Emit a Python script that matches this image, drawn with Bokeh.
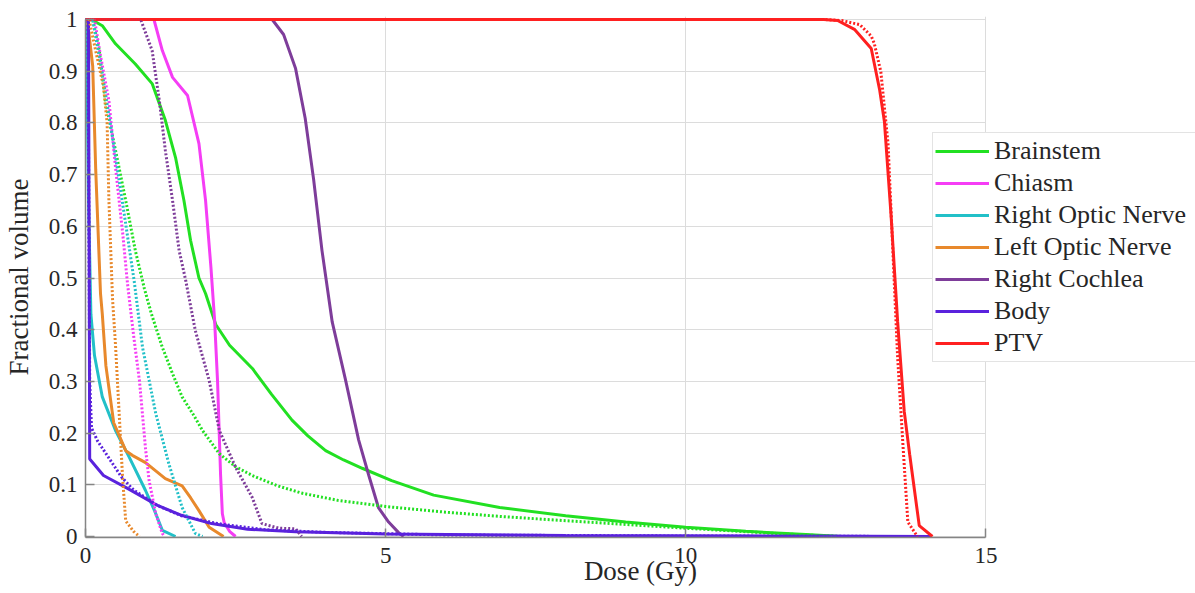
from bokeh.plotting import figure
from bokeh.models import Range1d, FixedTicker, Legend, LegendItem
from bokeh.embed import file_html
from bokeh.resources import INLINE

# ---------------- data ----------------
structures = ["Brainstem", "Chiasm", "Right Optic Nerve", "Left Optic Nerve",
              "Right Cochlea", "Body", "PTV"]

brainstem_dose = [0, 0.1, 0.28, 0.5, 0.83, 1.11, 1.33, 1.5, 1.64, 1.75, 1.89, 2.0, 2.17, 2.4,
                  2.78, 3.1, 3.44, 3.7, 4.0, 4.3, 4.61, 5.1, 5.8, 6.9, 8.0, 9.0, 10.0, 11.0, 12.0, 12.6]
brainstem_vol = [1, 1, 0.988, 0.953, 0.914, 0.876, 0.805, 0.733, 0.65, 0.573, 0.50, 0.47, 0.41, 0.37,
                 0.325, 0.275, 0.225, 0.195, 0.166, 0.148, 0.132, 0.108, 0.08, 0.056, 0.04, 0.028,
                 0.018, 0.01, 0.004, 0]
brainstem2_dose = [0, 0.12, 0.23, 0.33, 0.5, 0.67, 0.83, 0.98, 1.1, 1.28, 1.45, 1.61, 1.8, 1.95,
                   2.23, 2.5, 2.78, 3.2, 3.6, 4.2, 5.0, 6.0, 7.0, 8.5, 10.0, 11.5, 12.5]
brainstem2_vol = [1, 1, 0.94, 0.843, 0.747, 0.65, 0.553, 0.48, 0.43, 0.366, 0.315, 0.27, 0.235, 0.205,
                  0.16, 0.135, 0.118, 0.098, 0.084, 0.07, 0.058, 0.047, 0.038, 0.027, 0.016, 0.006, 0]

chiasm_dose = [0, 1.14, 1.28, 1.45, 1.70, 1.89, 2.0, 2.09, 2.15, 2.2, 2.25, 2.28, 2.31, 2.4, 2.5]
chiasm_vol = [1, 1, 0.94, 0.888, 0.853, 0.76, 0.65, 0.52, 0.42, 0.30, 0.12, 0.044, 0.027, 0.01, 0]
chiasm2_dose = [0, 0.15, 0.25, 0.39, 0.5, 0.62, 0.70, 0.8, 0.9, 1.0, 1.06, 1.17, 1.28, 1.32]
chiasm2_vol = [1, 1, 0.93, 0.843, 0.714, 0.586, 0.489, 0.39, 0.30, 0.17, 0.108, 0.044, 0.006, 0]

ron_dose = [0, 0.02, 0.05, 0.09, 0.15, 0.28, 0.5, 0.73, 1.0, 1.15, 1.28, 1.5]
ron_vol = [1, 0.95, 0.65, 0.43, 0.35, 0.27, 0.205, 0.153, 0.089, 0.05, 0.012, 0]
ron2_dose = [0, 0.12, 0.3, 0.48, 0.65, 0.81, 0.95, 1.17, 1.39, 1.61, 1.83, 1.95]
ron2_vol = [1, 1, 0.88, 0.75, 0.62, 0.495, 0.366, 0.238, 0.14, 0.056, 0.006, 0]

lon_dose = [0, 0.03, 0.12, 0.17, 0.25, 0.28, 0.34, 0.47, 0.67, 0.78, 1.0, 1.33, 1.61, 1.75,
            1.89, 2.06, 2.3]
lon_vol = [1, 1, 0.91, 0.71, 0.47, 0.43, 0.33, 0.22, 0.166, 0.157, 0.143, 0.112, 0.098, 0.075,
           0.05, 0.018, 0]
lon2_dose = [0, 0.06, 0.15, 0.3, 0.36, 0.39, 0.45, 0.5, 0.56, 0.62, 0.67, 0.8, 0.9]
lon2_vol = [1, 1, 0.95, 0.87, 0.8, 0.65, 0.46, 0.37, 0.24, 0.11, 0.03, 0.01, 0]

rc_dose = [0, 3.11, 3.30, 3.50, 3.66, 3.80, 3.94, 4.11, 4.33, 4.55, 4.72, 4.88, 5.05, 5.22, 5.3]
rc_vol = [1, 1, 0.971, 0.905, 0.809, 0.691, 0.553, 0.415, 0.304, 0.187, 0.118, 0.056, 0.028,
          0.007, 0]
rc2_dose = [0, 0.92, 1.11, 1.23, 1.33, 1.45, 1.56, 1.67, 1.83, 2.06, 2.23, 2.5, 2.78, 2.94,
            3.22, 3.5, 3.6]
rc2_vol = [1, 1, 0.94, 0.843, 0.747, 0.65, 0.553, 0.495, 0.398, 0.302, 0.205, 0.134, 0.075,
           0.025, 0.016, 0.015, 0]

body_dose = [0, 0.05, 0.07, 0.3, 0.7, 1.2, 1.6, 2.1, 2.7, 3.5, 5.0, 8.0, 12.0, 14.1]
body_vol = [1, 1, 0.15, 0.118, 0.093, 0.06, 0.041, 0.025, 0.014, 0.009, 0.005, 0.002, 0.001, 0]
body2_dose = [0, 0.04, 0.07, 0.1, 0.2, 0.4, 0.6, 0.8, 1.2, 1.6, 2.2, 3.0, 4.0, 6.0, 10.0, 14.0]
body2_vol = [1, 1, 0.3, 0.21, 0.185, 0.15, 0.115, 0.09, 0.06, 0.04, 0.025, 0.013, 0.008, 0.003,
             0.001, 0]

ptv_dose = [0, 12.3, 12.53, 12.81, 13.09, 13.23, 13.31, 13.42, 13.53, 13.64, 13.73, 13.89, 14.11]
ptv_vol = [1, 1, 0.998, 0.981, 0.944, 0.864, 0.802, 0.622, 0.415, 0.242, 0.159, 0.021, 0]
ptv2_dose = [0, 12.3, 12.6, 12.9, 13.09, 13.14, 13.25, 13.37, 13.45, 13.53, 13.62, 13.70, 13.86]
ptv2_vol = [1, 1, 0.998, 0.99, 0.968, 0.954, 0.899, 0.76, 0.553, 0.346, 0.174, 0.028, 0]

colors = ["#22e022", "#f53df5", "#22c0c8", "#e8892c", "#7e3d9a", "#5a22dd", "#ff2020"]

solid_series = [(brainstem_dose, brainstem_vol), (chiasm_dose, chiasm_vol), (ron_dose, ron_vol),
                (lon_dose, lon_vol), (rc_dose, rc_vol), (body_dose, body_vol), (ptv_dose, ptv_vol)]
dotted_series = [(brainstem2_dose, brainstem2_vol), (chiasm2_dose, chiasm2_vol),
                 (ron2_dose, ron2_vol), (lon2_dose, lon2_vol), (rc2_dose, rc2_vol),
                 (body2_dose, body2_vol), (ptv2_dose, ptv2_vol)]

x_min, x_max = 0, 15
y_min, y_max = 0, 1
x_ticks = [0, 5, 10, 15]
x_tick_labels = ["0", "5", "10", "15"]
x_grid_ticks = [5, 10, 15]
y_ticks = [0, 0.1, 0.2, 0.3, 0.4, 0.5, 0.6, 0.7, 0.8, 0.9, 1.0]
y_tick_labels = ["0", "0.1", "0.2", "0.3", "0.4", "0.5", "0.6", "0.7", "0.8", "0.9", "1"]

x_title = "Dose (Gy)"
y_title = "Fractional volume"

# ---------------- figure ----------------
FONT = "Liberation Serif, Times New Roman, serif"
TXT = "#262626"
GRID = "#dcdcdc"

# frame: x 83..1195 px (15 Gy = 902 px), y 16..537 px (1.0 = 517 px)
px_per_gy = 902 / 15
px_per_unit = 517
frame_w = 1195 - 83

p = figure(width=1195, height=593, output_backend="svg", toolbar_location=None,
           x_range=Range1d(0, frame_w / px_per_gy),
           y_range=Range1d(-1 / px_per_unit, 1 + 3 / px_per_unit),
           min_border_left=83, min_border_right=0, min_border_top=16, min_border_bottom=56)
p.background_fill_color = "white"
p.border_fill_color = "white"
p.outline_line_color = None

for ax, ticks, labels in ((p.xaxis, x_ticks, x_tick_labels), (p.yaxis, y_ticks, y_tick_labels)):
    ax.ticker = FixedTicker(ticks=ticks)
    ax.major_label_overrides = {t: l for t, l in zip(ticks, labels)}
    ax.major_label_text_font = FONT
    ax.major_label_text_font_size = "23px"
    ax.major_label_text_color = TXT
    ax.major_label_standoff = 8
    ax.axis_line_color = "#858585"
    ax.axis_line_width = 1.5
    ax.major_tick_line_color = "#858585"
    ax.major_tick_line_width = 1.5
    ax.major_tick_in = 9
    ax.major_tick_out = 0
    ax.minor_tick_line_color = None
    ax.axis_label_text_font = FONT
    ax.axis_label_text_font_size = "27px"
    ax.axis_label_text_font_style = "normal"
    ax.axis_label_text_color = TXT

p.xaxis.bounds = (x_min, x_max)
p.yaxis.bounds = (y_min, y_max)
p.xaxis.axis_label = x_title
p.yaxis.axis_label = y_title
p.xaxis.major_label_standoff = 10
p.xaxis.axis_label_standoff = -10
p.yaxis.axis_label_standoff = 12

p.xgrid.ticker = FixedTicker(ticks=x_grid_ticks)
p.ygrid.ticker = FixedTicker(ticks=y_ticks)
p.grid.grid_line_color = GRID
p.grid.grid_line_width = 1
p.ygrid.cross_bounds = (x_min, x_max)

solid_renderers = []
for (xs, ys), c in zip(solid_series, colors):
    r = p.line(xs, ys, line_color=c, line_width=3)
    solid_renderers.append(r)
for (xs, ys), c in zip(dotted_series, colors):
    p.line(xs, ys, line_color=c, line_width=3, line_dash="2 2")

legend = Legend(items=[LegendItem(label=s, renderers=[r]) for s, r in zip(structures, solid_renderers)],
                location=(847, 175))
legend.label_text_font = FONT
legend.label_text_font_size = "26px"
legend.label_text_color = TXT
legend.glyph_width = 54
legend.glyph_height = 32
legend.label_height = 32
legend.label_width = 230
legend.label_standoff = 5
legend.padding = 2
legend.spacing = 0
legend.margin = 0
legend.border_line_color = "#c8c8c8"
legend.border_line_width = 1
legend.background_fill_color = "white"
legend.background_fill_alpha = 1
p.add_layout(legend)

open("out.html", "w").write(file_html(p, INLINE))
